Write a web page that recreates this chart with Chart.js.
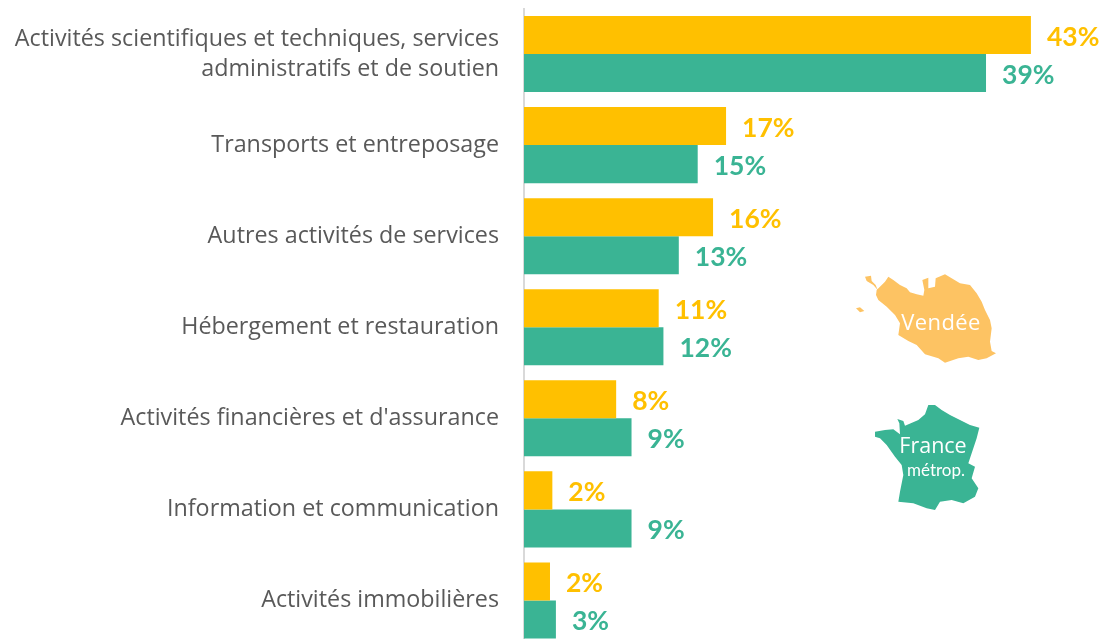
<!DOCTYPE html>
<html lang="fr">
<head>
<meta charset="utf-8">
<title>Activités</title>
<script src="https://cdn.jsdelivr.net/npm/chart.js@4"></script>
<style>
html,body{margin:0;padding:0;background:#fff;overflow:hidden}
#wrap{width:1103px;height:639px;position:relative;overflow:hidden}
canvas{display:block}
</style>
</head>
<body>
<div id="wrap"><canvas id="c" width="1103" height="646"></canvas></div>
<script>
const categories = [
  ["Activités scientifiques et techniques, services", "administratifs et de soutien"],
  "Transports et entreposage",
  "Autres activités de services",
  "Hébergement et restauration",
  "Activités financières et d'assurance",
  "Information et communication",
  "Activités immobilières"
];
const vendee = [42.9, 17.1, 16.0, 11.4, 7.8, 2.4, 2.2];
const france = [39.1, 14.7, 13.1, 11.8, 9.1, 9.1, 2.7];
const seriesNames = ["Vendée", "France métrop."];
const AMBER = "#FFC000", GREEN = "#3AB494", MAP_AMBER = "#FDC363";

const vendeeShapes = [
  [[95,75],[120,50],[130,35],[145,45],[165,60],[185,70],[195,82],[215,88],[235,92],[238,75],[232,45],[250,38],[250,70],[270,65],[272,40],[300,28],[320,40],[345,55],[375,60],[395,85],[410,110],[420,135],[435,165],[440,190],[435,230],[440,258],[453,265],[425,280],[400,285],[370,275],[340,280],[300,293],[280,280],[240,268],[215,240],[190,228],[160,210],[165,175],[150,150],[125,125],[100,105],[93,90]],
  [[60,35],[78,32],[80,48],[92,60],[98,75],[85,60],[65,48]],
  [[33,130],[45,127],[58,138],[45,142]]
];
const franceShapes = [
  [[45,110],[75,105],[100,103],[120,118],[118,85],[112,72],[130,78],[135,92],[175,75],[195,58],[205,30],[225,30],[245,45],[270,60],[300,75],[330,90],[358,98],[350,130],[335,175],[325,205],[345,215],[335,250],[355,280],[345,305],[310,325],[275,315],[240,320],[225,345],[200,340],[160,325],[115,320],[120,290],[130,240],[125,210],[105,185],[80,150],[60,130],[45,125]]
];

const valueLabels = {
  id: "valueLabels",
  afterDatasetsDraw(chart) {
    const ctx = chart.ctx;
    ctx.save();
    ctx.font = "bold 26.5px Lato, Carlito, sans-serif";
    ctx.textAlign = "left";
    ctx.textBaseline = "middle";
    chart.data.datasets.forEach((ds, i) => {
      ctx.fillStyle = ds.backgroundColor;
      chart.getDatasetMeta(i).data.forEach((bar, j) => {
        ctx.fillText(Math.round(ds.data[j]) + "%", bar.x + 16, bar.y + 2);
      });
    });
    ctx.restore();
  }
};

function drawShapes(ctx, shapes, ox, oy, color) {
  ctx.fillStyle = color;
  ctx.beginPath();
  shapes.forEach(s => {
    s.forEach((p, i) => {
      const x = ox + p[0] / 3, y = oy + p[1] / 3;
      i ? ctx.lineTo(x, y) : ctx.moveTo(x, y);
    });
    ctx.closePath();
  });
  ctx.fill();
}

const maps = {
  id: "maps",
  afterDraw(chart) {
    const ctx = chart.ctx;
    ctx.save();
    drawShapes(ctx, vendeeShapes, 845, 265, MAP_AMBER);
    drawShapes(ctx, franceShapes, 860, 395, GREEN);
    ctx.fillStyle = "#fff";
    ctx.textAlign = "center";
    ctx.textBaseline = "middle";
    ctx.font = "22px 'Open Sans', sans-serif";
    ctx.letterSpacing = "0.4px";
    ctx.fillText("Vendée", 941, 324);
    ctx.letterSpacing = "0px";
    ctx.font = "21.5px 'Open Sans', sans-serif";
    ctx.fillText("France", 933, 447);
    ctx.font = "17px Lato, sans-serif";
    ctx.fillText("métrop.", 936, 471);
    ctx.restore();
  }
};

new Chart(document.getElementById("c"), {
  type: "bar",
  data: {
    labels: categories,
    datasets: [
      { label: seriesNames[0], data: vendee, backgroundColor: AMBER },
      { label: seriesNames[1], data: france, backgroundColor: GREEN }
    ]
  },
  plugins: [valueLabels, maps],
  options: {
    indexAxis: "y",
    responsive: false,
    animation: false,
    layout: { autoPadding: false, padding: { top: 8.5, bottom: 0, left: 0, right: 0 } },
    categoryPercentage: 0.835,
    barPercentage: 1,
    plugins: { legend: { display: false }, tooltip: { enabled: false }, title: { display: false } },
    scales: {
      x: { min: 0, max: 49, display: false },
      y: {
        afterFit(s) {
          s.width = 524;
          s.paddingTop = 0;
          s.paddingBottom = 0;
          if (s._margins) { s._margins.top = 0; s._margins.bottom = 0; }
        },
        grid: { display: false, drawTicks: false },
        border: { display: true, color: "#D9D9D9", width: 2 },
        ticks: {
          padding: 25,
          color: "#595959",
          autoSkip: false,
          font: { family: "'Open Sans', sans-serif", size: 23.3, lineHeight: 1.3 }
        }
      }
    }
  }
});
</script>
</body>
</html>
